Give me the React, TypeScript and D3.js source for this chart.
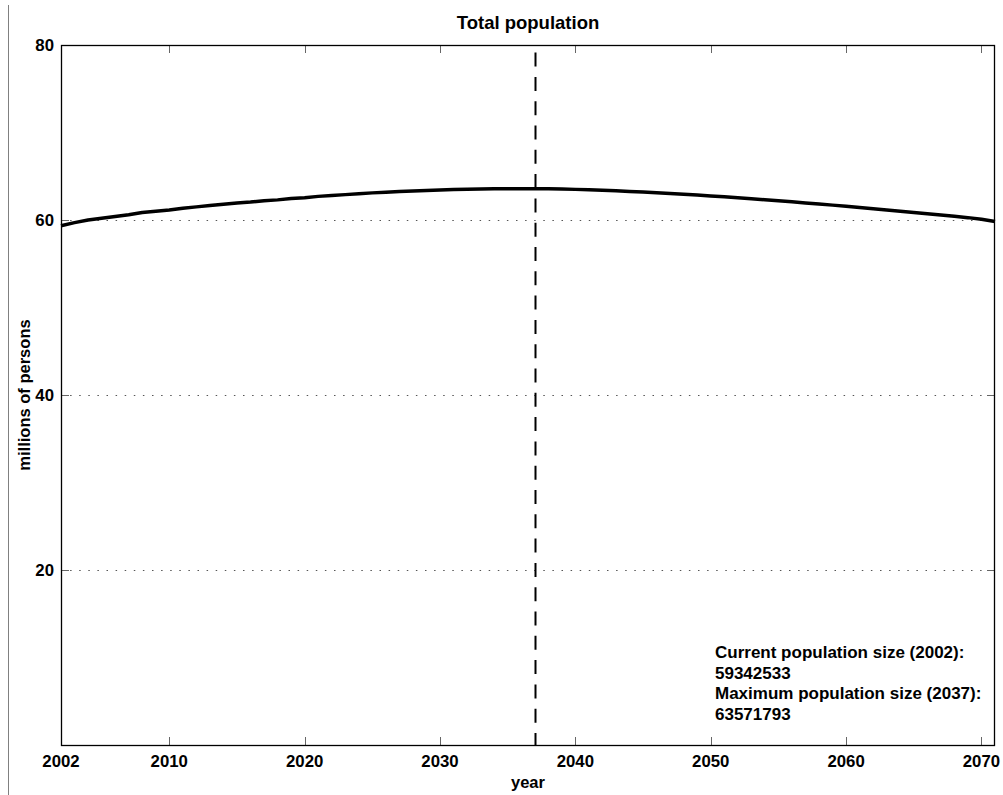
import React from "react";
import * as d3 from "d3";

const years: number[] = [
  2002, 2003, 2004, 2005, 2006, 2007, 2008, 2009, 2010, 2011, 2012, 2013, 2014, 2015, 2016, 2017, 2018, 2019, 2020, 2021,
  2022, 2023, 2024, 2025, 2026, 2027, 2028, 2029, 2030, 2031, 2032, 2033, 2034, 2035, 2036, 2037, 2038, 2039, 2040, 2041,
  2042, 2043, 2044, 2045, 2046, 2047, 2048, 2049, 2050, 2051, 2052, 2053, 2054, 2055, 2056, 2057, 2058, 2059, 2060, 2061,
  2062, 2063, 2064, 2065, 2066, 2067, 2068, 2069, 2070, 2071,
];
const population: number[] = [
  59.34, 59.7, 60.0, 60.2, 60.4, 60.6, 60.85, 61.0, 61.15, 61.35, 61.5, 61.65, 61.8, 61.95, 62.05, 62.2, 62.3, 62.45, 62.55, 62.7,
  62.8, 62.9, 63.0, 63.1, 63.18, 63.25, 63.32, 63.38, 63.43, 63.48, 63.52, 63.55, 63.57, 63.57, 63.57, 63.57, 63.56, 63.53, 63.5, 63.45,
  63.4, 63.33, 63.27, 63.2, 63.12, 63.03, 62.95, 62.85, 62.75, 62.65, 62.55, 62.43, 62.32, 62.2, 62.08, 61.95, 61.82, 61.7, 61.56, 61.42,
  61.28, 61.14, 61.0, 60.86, 60.72, 60.57, 60.42, 60.27, 60.08, 59.82,
];
const xTicks: number[] = [2010, 2020, 2030, 2040, 2050, 2060, 2070];
const yTicks: number[] = [20, 40, 60, 80];
const gridValues: number[] = [20, 40, 60];
const peakYear = 2037;
const annotationLines: string[] = [
  "Current population size (2002):",
  "59342533",
  "Maximum population size (2037):",
  "63571793",
];

const W = 1003;
const H = 795;
const L = 61;
const R = 995;
const T = 45;
const B = 745;
const FONT = "'Liberation Sans', Arial, Helvetica, sans-serif";

export default function App() {
  const x = d3.scaleLinear().domain([2002, 2071]).range([L, R]);
  const y = d3.scaleLinear().domain([0, 80]).range([B, T]);
  const line = d3
    .line<number>()
    .x((_, i) => x(years[i]))
    .y((d) => y(d))
    .curve(d3.curveLinear);
  const tickLen = 8;

  return (
    <svg
      width={W}
      height={H}
      style={{ position: "absolute", left: 0, top: 0, background: "#fff" }}
      fontFamily={FONT}
      fontWeight="bold"
    >
      <rect x={0} y={0} width={W} height={H} fill="#fff" />
      <line x1={8.5} x2={8.5} y1={5} y2={H} stroke="#808080" strokeWidth={1} />

      {/* grid */}
      {gridValues.map((v) => (
        <line
          key={"g" + v}
          x1={L}
          x2={R}
          y1={Math.round(y(v)) + 0.5}
          y2={Math.round(y(v)) + 0.5}
          stroke="#555"
          strokeWidth={1}
          strokeDasharray="1.5 7.6"
        />
      ))}

      {/* ticks */}
      {xTicks.map((t) => (
        <g key={"xt" + t}>
          <line x1={Math.round(x(t)) + 0.5} x2={Math.round(x(t)) + 0.5} y1={B} y2={B - tickLen} stroke="#666" />
          <line x1={Math.round(x(t)) + 0.5} x2={Math.round(x(t)) + 0.5} y1={T} y2={T + tickLen} stroke="#666" />
        </g>
      ))}
      {yTicks.map((t) => (
        <g key={"yt" + t}>
          <line x1={L} x2={L + tickLen} y1={Math.round(y(t)) + 0.5} y2={Math.round(y(t)) + 0.5} stroke="#666" />
          <line x1={R} x2={R - tickLen} y1={Math.round(y(t)) + 0.5} y2={Math.round(y(t)) + 0.5} stroke="#666" />
        </g>
      ))}

      {/* vertical dashed peak line */}
      <line
        x1={Math.round(x(peakYear)) + 0.5}
        x2={Math.round(x(peakYear)) + 0.5}
        y1={B}
        y2={T}
        stroke="#000"
        strokeWidth={2}
        strokeDasharray="14 10.3"
        strokeDashoffset={2}
      />

      {/* data line */}
      <path d={line(population) || ""} fill="none" stroke="#000" strokeWidth={3.5} strokeLinejoin="round" />

      {/* frame */}
      <rect x={L + 0.5} y={T + 0.5} width={R - L - 1} height={B - T} fill="none" stroke="#000" strokeWidth={1.3} />

      {/* tick labels */}
      {[2002, ...xTicks].map((t) => (
        <text key={"xl" + t} x={x(t)} y={767} textAnchor="middle" fontSize={16.8}>
          {t}
        </text>
      ))}
      {yTicks.map((t) => (
        <text key={"yl" + t} x={54} y={y(t) + 6} textAnchor="end" fontSize={16.8}>
          {t}
        </text>
      ))}

      <text x={(L + R) / 2} y={29} textAnchor="middle" fontSize={18.5}>
        Total population
      </text>
      <text x={(L + R) / 2} y={788} textAnchor="middle" fontSize={16.5}>
        year
      </text>
      <text transform={`translate(30,${(T + B) / 2}) rotate(-90)`} textAnchor="middle" fontSize={16.5}>
        millions of persons
      </text>

      {annotationLines.map((s, i) => (
        <text key={"a" + i} x={715} y={658 + i * 20.7} fontSize={17}>
          {s}
        </text>
      ))}
    </svg>
  );
}
